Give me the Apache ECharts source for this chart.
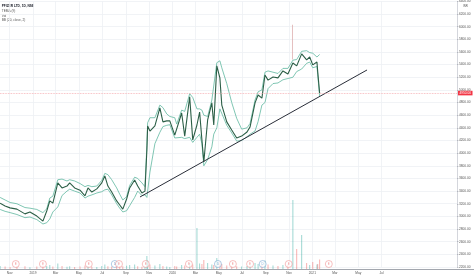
<!DOCTYPE html>
<html><head><meta charset="utf-8">
<script src="https://cdn.jsdelivr.net/npm/echarts@6/dist/echarts.min.js"></script>
<style>html,body{margin:0;padding:0;background:#fff}#c{width:474px;height:279px}</style>
</head><body><div id="c"></div>
<script>
const priceDates = ['2018-10-07','2018-10-20','2018-11-02','2018-11-20','2018-12-11','2018-12-24',
'2019-01-11','2019-01-27','2019-02-06','2019-02-14','2019-02-22','2019-03-07','2019-03-18','2019-03-31','2019-04-07','2019-04-20','2019-05-04','2019-05-17','2019-05-25','2019-06-04','2019-06-17','2019-06-30','2019-07-08','2019-07-16','2019-07-26','2019-08-08','2019-08-16','2019-08-24','2019-09-03','2019-09-11','2019-09-24','2019-10-02','2019-10-13','2019-10-21','2019-10-26','2019-10-28','2019-11-03','2019-11-16','2019-11-29','2019-12-07','2019-12-17','2019-12-25',
'2020-01-07','2020-01-12','2020-01-25','2020-02-02','2020-02-15','2020-02-23','2020-03-05','2020-03-12','2020-03-18','2020-03-23','2020-04-02','2020-04-13','2020-04-18','2020-04-26','2020-05-04','2020-05-09','2020-05-22','2020-06-04','2020-06-17','2020-06-30','2020-07-14','2020-07-22','2020-08-04','2020-08-12','2020-08-22','2020-08-30','2020-09-07','2020-09-20','2020-10-03','2020-10-16','2020-10-29','2020-11-11','2020-11-21','2020-12-04','2020-12-17','2020-12-25',
'2021-01-02','2021-01-13','2021-01-15','2021-01-20'];
const closes = [3210,3165,3135,3115,3040,3070,
3005,2925,3085,3245,3210,3530,3450,3480,3530,3450,3415,3325,3450,3385,3435,3530,3640,3480,3385,3245,3180,3115,3275,3450,3575,3480,3370,3400,4050,4430,4350,4430,4715,4495,4510,4510,
4285,4270,4635,4270,4890,4210,4445,4650,4210,3860,4525,4795,4445,5380,5190,4760,4495,4365,4240,4270,4335,4415,4795,4920,4870,5235,5155,5205,5190,5300,5250,5425,5380,5570,5475,5520,
5395,5440,5285,4950];
const bbUpper = [3300,3260,3220,3200,3140,3130,
3110,3060,3120,3290,3320,3580,3590,3560,3580,3560,3520,3470,3490,3470,3480,3570,3680,3660,3580,3450,3350,3260,3310,3490,3620,3600,3530,3470,4120,4480,4560,4560,4760,4720,4620,4580,
4560,4460,4680,4660,4940,4880,4700,4700,4680,4600,4580,4840,4850,5430,5460,5350,5100,4800,4550,4380,4400,4470,4840,4970,5000,5280,5300,5280,5260,5340,5340,5470,5480,5610,5620,5590,
5580,5520,5500,5560];
const bbLower = [3110,3080,3060,3030,2980,2990,
2950,2880,2900,2960,3070,3150,3330,3400,3430,3400,3370,3290,3320,3340,3370,3390,3420,3430,3340,3200,3130,3070,3090,3170,3300,3400,3330,3340,3300,3400,3700,4150,4330,4420,4440,4450,
4240,4220,4250,4230,4250,4170,4250,4300,4150,3800,3900,4100,4300,4400,4700,4700,4440,4320,4190,4200,4260,4300,4350,4500,4760,4800,5020,5100,5110,5160,5180,5200,5290,5330,5420,5440,
5350,5370,5240,4900];
const volumes = [30,25,20,22,28,18,
25,35,30,40,25,55,30,22,28,20,25,35,30,22,20,30,45,28,25,35,30,28,32,40,45,28,22,25,130,85,45,35,50,30,25,20,
30,25,40,35,60,45,410,55,50,90,60,45,40,110,70,50,35,30,28,25,30,35,60,50,40,85,45,35,30,40,45,690,200,340,60,40,
70,45,50,95];
const trendDates = ['2019-10-08','2021-05-24'];
const trendValues = [3307,5315];
const spikeDates = ['2020-11-10','2020-11-10'];
const spikeValues = [5480,6030];
const eventDates = ['2018-11-17','2019-01-27','2019-05-27','2019-08-03','2019-08-14','2019-10-23','2020-02-13','2020-04-29','2020-06-07','2020-07-22','2020-08-24','2020-10-31','2021-02-13'];
const eventKinds = ['E','E','E','D','E','E','E','D','E','E','D','E','E'];
const tickDates = ['2018-11-01','2019-01-01','2019-03-01','2019-05-01','2019-07-01','2019-09-01','2019-11-01','2020-01-01','2020-03-01','2020-05-01','2020-07-01','2020-09-01','2020-11-01','2021-01-01','2021-03-01','2021-05-01','2021-07-01'];
const monthNames = ['Jan','Feb','Mar','Apr','May','Jun','Jul','Aug','Sep','Oct','Nov','Dec'];
const priceMin = 2200, priceMax = 6400, priceStep = 200;
const timeMin = '2018-10-06T17:00:00', timeMax = '2022-01-14T10:00:00';
const titleLines = ['PFIZER LTD, 1D, NSE','TEMA (9)','Vol','BB (20, close, 2)'];
const currencyLabel = 'INR';

const parseT = s => +new Date(s.length === 10 ? s + 'T00:00:00' : s);
const pair = (ds, vs) => ds.map((d, i) => [parseT(d), vs[i]]);
const tickTimes = tickDates.map(parseT);
const FS = 3.2;
const FONT = 'Liberation Sans';
const EVENT_LEVEL = 50;
const lastClose = closes[closes.length - 1];

const volData = volumes.map((v, i) => ({
  value: [parseT(priceDates[i]), v],
  itemStyle: { color: (i === 0 || closes[i] >= closes[i - 1]) ? 'rgba(38,166,154,0.45)' : 'rgba(239,83,80,0.45)' }
}));
const evData = eventDates.map((d, i) => {
  const c = eventKinds[i] === 'E' ? '#ef7b7b' : '#5b93c9';
  return { value: [parseT(d), EVENT_LEVEL], itemStyle: { borderColor: c }, label: { color: c } };
});
const labelFmt = v => { const d = new Date(v); return d.getMonth() === 0 ? String(d.getFullYear()) : monthNames[d.getMonth()]; };

const chart = echarts.init(document.getElementById('c'), null, { renderer: 'canvas' });
chart.setOption({
  animation: false,
  backgroundColor: '#ffffff',
  textStyle: { fontFamily: FONT },
  grid: [
    { left: 0, right: 17, top: 1.35, bottom: 12, containLabel: false, outerBoundsMode: 'none' },
    { left: 0, right: 17, top: 199, bottom: 10, containLabel: false, outerBoundsMode: 'none' }
  ],
  xAxis: [
    { type: 'value', gridIndex: 0, min: parseT(timeMin), max: parseT(timeMax),
      axisLine: { show: false }, axisTick: { show: false, customValues: tickTimes },
      axisLabel: { show: false, customValues: tickTimes },
      splitLine: { show: true, lineStyle: { color: '#eef0f4', width: 0.8 } } },
    { type: 'value', gridIndex: 1, min: parseT(timeMin), max: parseT(timeMax),
      axisLine: { show: false }, axisTick: { show: false, customValues: tickTimes },
      axisLabel: { show: true, customValues: tickTimes, formatter: labelFmt, fontSize: FS, color: '#555', margin: 2.5, fontFamily: FONT, showMinLabel: true, showMaxLabel: true },
      splitLine: { show: false } }
  ],
  yAxis: [
    { type: 'value', gridIndex: 0, position: 'right', min: priceMin, max: priceMax, interval: priceStep,
      axisLine: { show: true, lineStyle: { color: '#c9ccd3', width: 0.8 } },
      axisTick: { show: true, length: 1.5, lineStyle: { color: '#9a9ea6', width: 0.6 } },
      axisLabel: { fontSize: FS, color: '#555', margin: 2, fontFamily: FONT, formatter: v => v.toFixed(2) },
      splitLine: { show: true, lineStyle: { color: '#eef0f4', width: 0.8 } } },
    { type: 'value', gridIndex: 1, min: 0, max: 700, show: false }
  ],
  series: [
    { type: 'line', name: 'BB upper', data: pair(priceDates, bbUpper), symbol: 'none',
      lineStyle: { color: '#5fb89f', width: 0.8 }, z: 2 },
    { type: 'line', name: 'BB lower', data: pair(priceDates, bbLower), symbol: 'none',
      lineStyle: { color: '#5fb89f', width: 0.8 }, z: 2 },
    { type: 'line', name: 'Spike', data: pair(spikeDates, spikeValues), symbol: 'none',
      lineStyle: { color: '#d9a3a3', width: 0.7 }, z: 2 },
    { type: 'line', name: 'Close', data: pair(priceDates, closes), symbol: 'none',
      lineStyle: { color: '#2c5f47', width: 1.1 }, z: 3,
      markLine: { symbol: 'none', silent: true, animation: false,
        lineStyle: { color: '#f5a9ae', type: 'dotted', width: 0.8 },
        label: { show: true, position: 'end', distance: 1, formatter: p => Number(p.value).toFixed(2),
          backgroundColor: '#f23645', color: '#fff', fontSize: FS, fontFamily: FONT, padding: [1, 1.5, 0.6, 1.5] },
        data: [{ yAxis: lastClose }] } },
    { type: 'line', name: 'Trend', data: pair(trendDates, trendValues), symbol: 'none',
      lineStyle: { color: '#2a2e39', width: 1 }, z: 4 },
    { type: 'bar', name: 'Volume', xAxisIndex: 1, yAxisIndex: 1, data: volData, barWidth: 1, z: 1 },
    { type: 'scatter', name: 'Events', xAxisIndex: 1, yAxisIndex: 1, data: evData, symbol: 'circle', symbolSize: 7,
      itemStyle: { color: 'rgba(255,255,255,0.85)', borderWidth: 0.6 },
      label: { show: true, position: 'inside', formatter: p => eventKinds[p.dataIndex], fontSize: 3, fontFamily: FONT }, z: 5 }
  ],
  graphic: [
    { type: 'text', left: 1.7, top: 4.2, style: { text: titleLines[0], fontSize: FS, fontWeight: 'bold', fill: '#131722', fontFamily: FONT } },
    { type: 'text', left: 1.7, top: 9.9, style: { text: titleLines[1], fontSize: FS, fill: '#555', fontFamily: FONT } },
    { type: 'text', left: 1.7, top: 14.3, style: { text: titleLines[2], fontSize: FS, fill: '#555', fontFamily: FONT } },
    { type: 'text', left: 1.7, top: 19.0, style: { text: titleLines[3], fontSize: FS, fill: '#555', fontFamily: FONT } },
    { type: 'text', left: 463, top: 4.5, style: { text: currencyLabel, fontSize: 2.8, fill: '#555', fontFamily: FONT } },
    { type: 'line', shape: { x1: 0, y1: 269.5, x2: 474, y2: 269.5 }, style: { stroke: '#8c9099', lineWidth: 0.8 } }
  ]
});
</script></body></html>
